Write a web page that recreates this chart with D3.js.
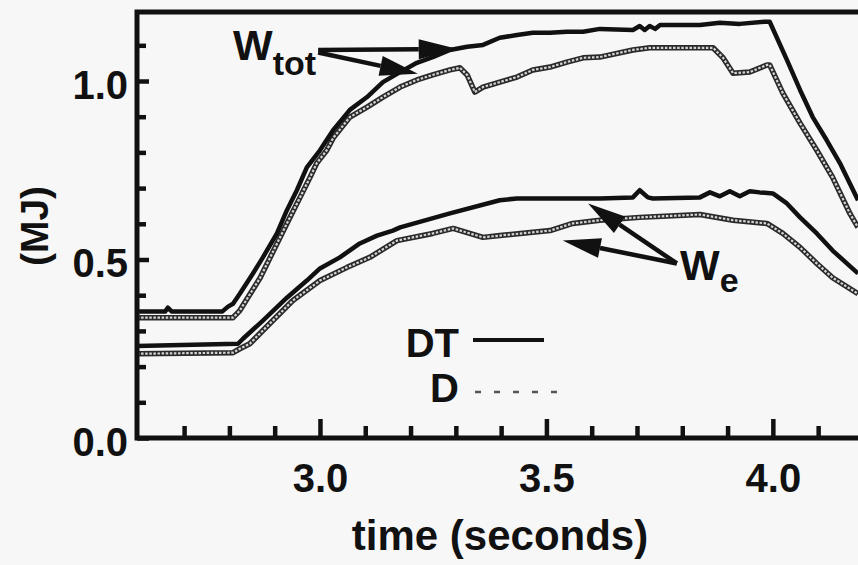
<!DOCTYPE html>
<html>
<head>
<meta charset="utf-8">
<script src="https://cdn.jsdelivr.net/npm/d3@7"></script>
<style>
  html, body { margin: 0; padding: 0; background: #f7f7f7; }
  svg { display: block; }
</style>
</head>
<body>
<div id="chart"></div>
<script>
// stored energy: [time (s), energy (MJ)]
// DT plasma, total stored energy
const wtotDT = [
  [2.596, 0.354], [2.658, 0.354], [2.664, 0.365], [2.673, 0.354], [2.784, 0.354],
  [2.797, 0.368], [2.808, 0.376], [2.823, 0.404], [2.852, 0.461], [2.874, 0.506],
  [2.905, 0.573], [2.927, 0.638], [2.949, 0.694], [2.971, 0.758], [3.000, 0.806],
  [3.029, 0.862], [3.066, 0.919], [3.104, 0.955], [3.139, 0.997], [3.177, 1.025],
  [3.214, 1.051], [3.249, 1.067], [3.287, 1.087], [3.325, 1.096], [3.360, 1.101],
  [3.397, 1.121], [3.435, 1.129], [3.470, 1.135], [3.508, 1.135], [3.545, 1.138],
  [3.581, 1.138], [3.618, 1.146], [3.691, 1.143], [3.706, 1.154], [3.717, 1.143],
  [3.728, 1.154], [3.740, 1.146], [3.751, 1.157], [3.839, 1.157], [3.883, 1.163],
  [3.927, 1.160], [3.982, 1.166], [3.993, 1.166], [4.031, 1.059], [4.060, 0.975],
  [4.088, 0.899], [4.119, 0.834], [4.148, 0.770], [4.188, 0.666]
];
// D plasma, total stored energy
const wtotD = [
  [2.596, 0.337], [2.808, 0.337], [2.823, 0.357], [2.868, 0.449], [2.927, 0.601],
  [2.956, 0.674], [2.978, 0.730], [2.993, 0.770], [3.015, 0.806], [3.029, 0.840],
  [3.066, 0.899], [3.104, 0.927], [3.139, 0.955], [3.177, 0.983], [3.214, 1.003],
  [3.249, 1.017], [3.287, 1.031], [3.309, 1.037], [3.325, 1.017], [3.342, 0.969],
  [3.360, 0.983], [3.397, 0.997], [3.435, 1.011], [3.470, 1.031], [3.508, 1.039],
  [3.545, 1.053], [3.581, 1.065], [3.618, 1.067], [3.691, 1.087], [3.728, 1.093],
  [3.868, 1.093], [3.890, 1.065], [3.912, 1.022], [3.949, 1.025], [3.987, 1.045],
  [3.993, 1.045], [4.022, 0.966], [4.060, 0.882], [4.097, 0.806], [4.132, 0.730],
  [4.170, 0.629], [4.188, 0.590]
];
// DT plasma, electron stored energy
const weDT = [
  [2.596, 0.258], [2.819, 0.264], [2.830, 0.278], [2.874, 0.329], [2.927, 0.393],
  [2.971, 0.441], [3.000, 0.475], [3.044, 0.506], [3.088, 0.545], [3.126, 0.567],
  [3.161, 0.581], [3.177, 0.590], [3.287, 0.629], [3.397, 0.666], [3.435, 0.671],
  [3.486, 0.671], [3.618, 0.671], [3.691, 0.674], [3.706, 0.694], [3.724, 0.674],
  [3.735, 0.671], [3.839, 0.674], [3.861, 0.688], [3.883, 0.677], [3.905, 0.691],
  [3.927, 0.677], [3.949, 0.691], [3.971, 0.688], [4.000, 0.685], [4.031, 0.657],
  [4.060, 0.618], [4.097, 0.573], [4.132, 0.525], [4.188, 0.461]
];
// D plasma, electron stored energy
const weD = [
  [2.596, 0.236], [2.808, 0.239], [2.823, 0.250], [2.845, 0.264], [2.874, 0.301],
  [2.940, 0.385], [3.000, 0.441], [3.060, 0.478], [3.110, 0.506], [3.170, 0.553],
  [3.249, 0.573], [3.294, 0.587], [3.360, 0.562], [3.397, 0.567], [3.508, 0.581],
  [3.558, 0.601], [3.618, 0.610], [3.706, 0.618], [3.839, 0.626], [3.912, 0.610],
  [3.987, 0.601], [4.022, 0.573], [4.060, 0.534], [4.097, 0.489], [4.132, 0.449],
  [4.188, 0.404]
];

const xMajor = [3.0, 3.5, 4.0];
const xMinor = [2.7, 2.8, 2.9, 3.1, 3.2, 3.3, 3.4, 3.6, 3.7, 3.8, 3.9, 4.1];
const yMajor = [0.0, 0.5, 1.0];
const yMinor = [0.1, 0.2, 0.3, 0.4, 0.6, 0.7, 0.8, 0.9, 1.1];

const width = 858;
const height = 565;
const margin = {top: 12, right: 0, bottom: 127, left: 137};
const font = "'Liberation Sans', Arial, Helvetica, sans-serif";

const x = d3.scaleLinear()
    .domain([2.596, 4.188])
    .range([margin.left, width - margin.right]);
const y = d3.scaleLinear()
    .domain([0, 1])
    .range([height - margin.bottom, 81]);

const svg = d3.select("#chart").append("svg")
    .attr("width", width)
    .attr("height", height)
    .attr("viewBox", [0, 0, width, height])
    .attr("font-family", font)
    .attr("font-weight", "bold");

svg.append("rect")
    .attr("width", width).attr("height", height)
    .attr("fill", "#f7f7f7");

const line = d3.line()
    .x(d => x(d[0]))
    .y(d => y(d[1]));

// D shots: drawn as a chain of little open circles in the original
function dotted(data) {
  svg.append("path")
      .attr("d", line(data))
      .attr("fill", "none")
      .attr("stroke", "#2a2a2a")
      .attr("stroke-width", 5.5)
      .attr("stroke-linejoin", "round");
  svg.append("path")
      .attr("d", line(data))
      .attr("fill", "none")
      .attr("stroke", "#d4d4d4")
      .attr("stroke-width", 2.2)
      .attr("stroke-dasharray", "2.5,1.6");
}
function solid(data) {
  svg.append("path")
      .attr("d", line(data))
      .attr("fill", "none")
      .attr("stroke", "#111")
      .attr("stroke-width", 4.5)
      .attr("stroke-linejoin", "round");
}

dotted(wtotD);
dotted(weD);
solid(wtotDT);
solid(weDT);

// axes, ticks point into the plot
const gx = svg.append("g").attr("transform", `translate(0,${y(0)})`);
gx.append("g")
    .call(d3.axisBottom(x).tickValues(xMinor).tickSize(-12).tickFormat(""));
gx.append("g")
    .call(d3.axisBottom(x).tickValues(xMajor).tickSize(-19).tickFormat(d3.format(".1f")));
gx.selectAll(".domain").remove();
gx.selectAll(".tick line").attr("stroke", "#111").attr("stroke-width", 4.5);
gx.selectAll(".tick text")
    .attr("y", 54).attr("dy", 0)
    .attr("font-size", 40).attr("font-family", font).attr("font-weight", "bold")
    .attr("fill", "#111");

const gy = svg.append("g").attr("transform", `translate(${x.range()[0]},0)`);
gy.append("g")
    .call(d3.axisLeft(y).tickValues(yMinor).tickSize(-9).tickFormat(""));
gy.append("g")
    .call(d3.axisLeft(y).tickValues(yMajor).tickSize(-12).tickFormat(d3.format(".1f")));
gy.selectAll(".domain").remove();
gy.selectAll(".tick line").attr("stroke", "#111").attr("stroke-width", 4.5);
gy.selectAll(".tick text")
    .attr("x", -9).attr("dy", "0.43em")
    .attr("font-size", 40).attr("font-family", font).attr("font-weight", "bold")
    .attr("fill", "#111");

// frame: left, bottom and top (right side is cut off)
const x0 = x.range()[0], x1 = x.range()[1];
svg.append("path")
    .attr("d", `M${x1},${margin.top}H${x0}V${y(0)}H${x1}`)
    .attr("fill", "none")
    .attr("stroke", "#111")
    .attr("stroke-width", 5);

// axis titles
svg.append("text")
    .attr("x", 500).attr("y", 550)
    .attr("text-anchor", "middle")
    .attr("font-size", 42)
    .attr("fill", "#111")
    .text("time (seconds)");

svg.append("text")
    .attr("transform", "translate(48,226) rotate(-90)")
    .attr("text-anchor", "middle")
    .attr("font-size", 39)
    .attr("fill", "#111")
    .text("(MJ)");

// arrows with filled heads
function arrow(from, to) {
  const x1a = x(from[0]), y1a = y(from[1]);
  const x2a = x(to[0]), y2a = y(to[1]);
  const ang = Math.atan2(y2a - y1a, x2a - x1a);
  const len = 38, half = 10;
  const bx = x2a - len * Math.cos(ang), by = y2a - len * Math.sin(ang);
  svg.append("line")
      .attr("x1", x1a).attr("y1", y1a)
      .attr("x2", bx).attr("y2", by)
      .attr("stroke", "#111")
      .attr("stroke-width", 4.5);
  svg.append("path")
      .attr("d", `M${x2a},${y2a}L${bx + half * Math.sin(ang)},${by - half * Math.cos(ang)}` +
                 `L${bx - half * Math.sin(ang)},${by + half * Math.cos(ang)}Z`)
      .attr("fill", "#111");
}

arrow([2.996, 1.087], [3.302, 1.090]);
arrow([2.996, 1.080], [3.216, 1.020]);
arrow([3.788, 0.489], [3.592, 0.657]);
arrow([3.788, 0.489], [3.536, 0.553]);

// labels for the curve pairs
const wtot = svg.append("text")
    .attr("x", 233).attr("y", 60)
    .attr("fill", "#111");
wtot.append("tspan").attr("font-size", 42).text("W");
wtot.append("tspan").attr("font-size", 34).attr("dy", 15).text("tot");

const we = svg.append("text")
    .attr("x", 680).attr("y", 280)
    .attr("fill", "#111");
we.append("tspan").attr("font-size", 42).text("W");
we.append("tspan").attr("font-size", 34).attr("dy", 12).text("e");

// legend
svg.append("text")
    .attr("x", 459).attr("y", 357)
    .attr("text-anchor", "end")
    .attr("font-size", 40)
    .attr("fill", "#111")
    .text("DT");
svg.append("line")
    .attr("x1", 473).attr("x2", 544)
    .attr("y1", 340).attr("y2", 340)
    .attr("stroke", "#111")
    .attr("stroke-width", 4);

svg.append("text")
    .attr("x", 459).attr("y", 402)
    .attr("text-anchor", "end")
    .attr("font-size", 40)
    .attr("fill", "#111")
    .text("D");
svg.append("line")
    .attr("x1", 475).attr("x2", 560)
    .attr("y1", 392).attr("y2", 392)
    .attr("stroke", "#555")
    .attr("stroke-width", 2.5)
    .attr("stroke-dasharray", "6,13");
</script>
</body>
</html>
